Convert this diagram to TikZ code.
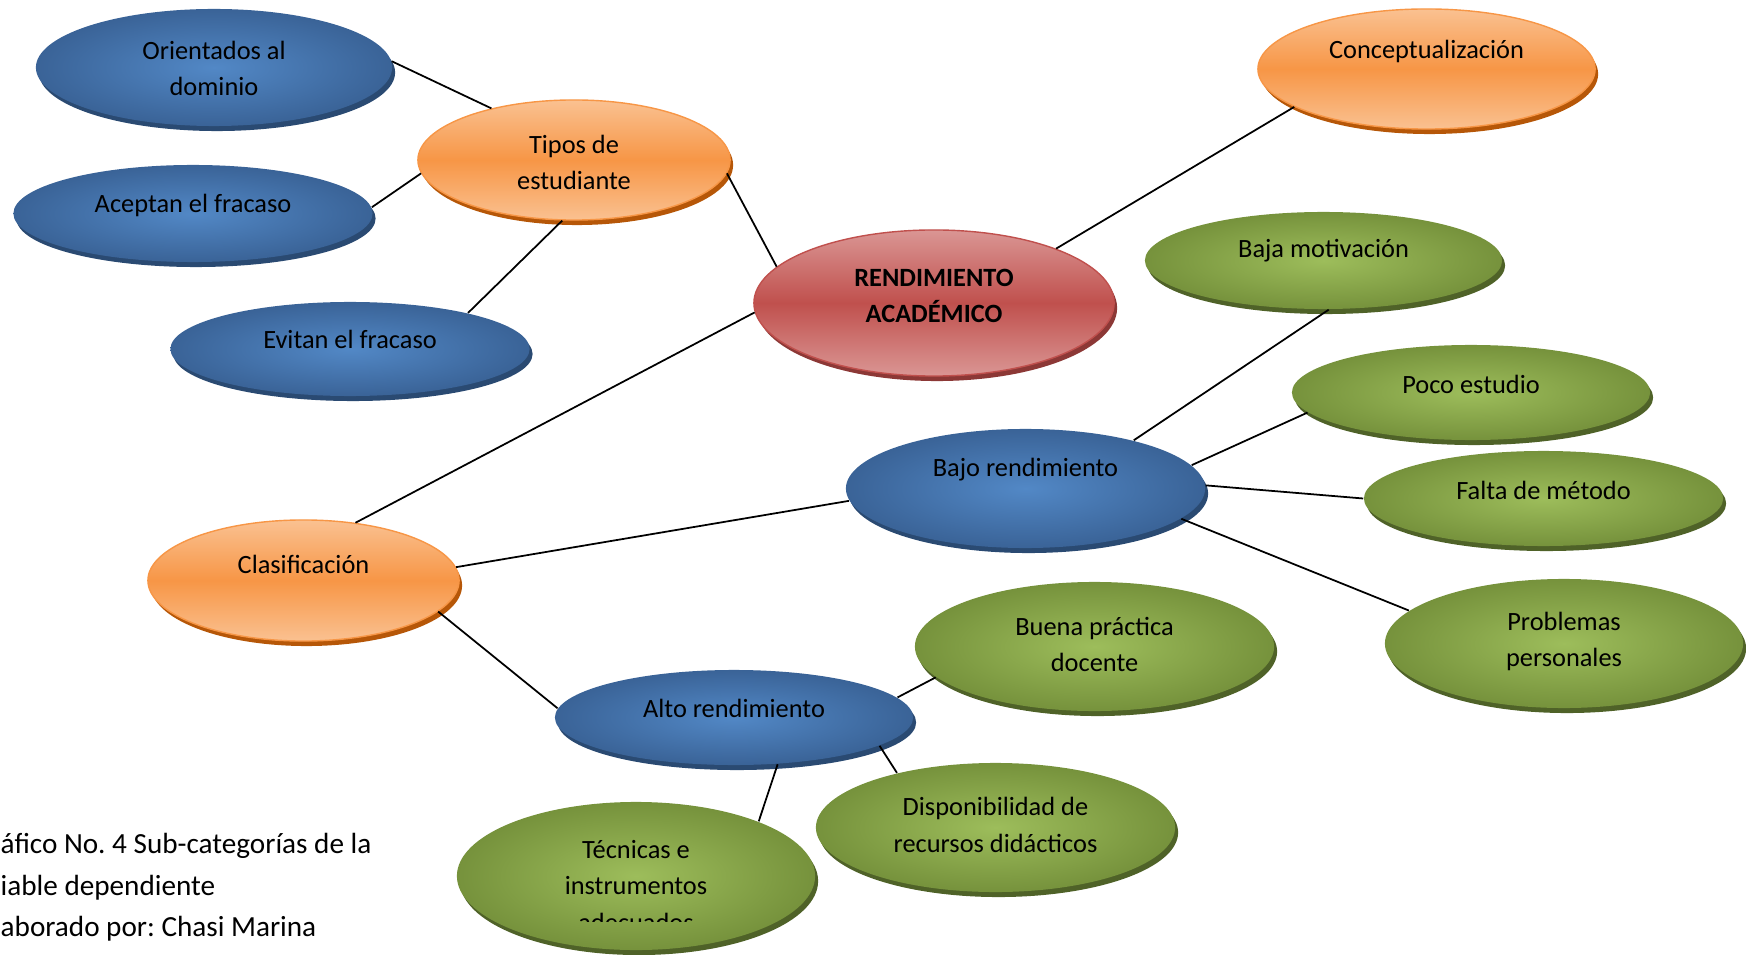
\documentclass[tikz,border=0pt]{standalone}
\usepackage{fontspec}
\setmainfont{Carlito}
\usepackage{xcolor}
\usetikzlibrary{shapes.geometric,shadows}
\frenchspacing

\definecolor{azul}{HTML}{3A6397}
\definecolor{azulclaro}{HTML}{5288C6}
\definecolor{azulborde}{HTML}{2A4A72}
\definecolor{verde}{HTML}{76923C}
\definecolor{verdeclaro}{HTML}{9DBD5B}
\definecolor{verdeborde}{HTML}{4F6228}
\definecolor{naranja}{HTML}{F79646}
\definecolor{naranjaclaro}{HTML}{FAC191}
\definecolor{naranjaborde}{HTML}{B65708}
\definecolor{rojo}{HTML}{C0504D}
\definecolor{rojoclaro}{HTML}{DA9694}
\definecolor{rojoborde}{HTML}{8C3836}

\tikzset{
  burbuja/.style={ellipse, inner sep=0pt},
  azul/.style={burbuja, inner color=azulclaro, outer color=azul,
    general shadow={fill=azulborde, shadow xshift=0.03cm, shadow yshift=-0.05cm}},
  verde/.style={burbuja, inner color=verdeclaro, outer color=verde,
    general shadow={fill=verdeborde, shadow xshift=0.03cm, shadow yshift=-0.05cm}},
  naranja/.style={burbuja, draw=naranja, line width=0.4pt,
    top color=naranjaclaro, bottom color=naranjaclaro, middle color=naranja,
    general shadow={fill=naranjaborde, shadow xshift=0.03cm, shadow yshift=-0.05cm}},
  rojo/.style={burbuja, draw=rojo, line width=0.4pt,
    top color=rojoclaro, bottom color=rojoclaro, middle color=rojo,
    general shadow={fill=rojoborde, shadow xshift=0.03cm, shadow yshift=-0.05cm}},
  texto/.style={align=center, inner sep=0pt, font=\fontsize{7.5pt}{10.4pt}\selectfont},
  pie/.style={align=left, inner sep=0pt, font=\fontsize{8.3pt}{11.75pt}\selectfont},
  linea/.style={line width=0.5pt}
}

\begin{document}
\begin{tikzpicture}[x=0.01cm, y=-0.01cm]
\useasboundingbox (0,0) rectangle (1746,955);
% elipses
\node [azul, minimum width=3.56cm, minimum height=1.17cm] (orientados) at (214,67.5) {};
\node [naranja, minimum width=3.12cm, minimum height=1.20cm] (tipos) at (574,160) {};
\node [azul, minimum width=3.59cm, minimum height=0.97cm] (aceptan) at (193,213.5) {};
\node [azul, minimum width=3.59cm, minimum height=0.94cm] (evitan) at (350,349) {};
\node [rojo, minimum width=3.60cm, minimum height=1.46cm] (rendimiento) at (934,303) {};
\node [naranja, minimum width=3.37cm, minimum height=1.20cm] (concepto) at (1426.5,69) {};
\node [verde, minimum width=3.57cm, minimum height=0.97cm] (motivacion) at (1323.5,260.5) {};
\node [verde, minimum width=3.58cm, minimum height=0.95cm] (estudio) at (1471,392.5) {};
\node [azul, minimum width=3.59cm, minimum height=1.19cm] (bajo) at (1025.5,488.5) {};
\node [verde, minimum width=3.59cm, minimum height=0.95cm] (metodo) at (1543.5,498.5) {};
\node [naranja, minimum width=3.11cm, minimum height=1.21cm] (clasif) at (303.5,580.5) {};
\node [verde, minimum width=3.58cm, minimum height=1.29cm] (problemas) at (1564,643.5) {};
\node [verde, minimum width=3.59cm, minimum height=1.29cm] (practica) at (1094.5,646.5) {};
\node [azul, minimum width=3.58cm, minimum height=0.95cm] (alto) at (734,717.5) {};
\node [verde, minimum width=3.59cm, minimum height=1.29cm] (recursos) at (995.5,827.5) {};
\node [verde, minimum width=3.58cm, minimum height=1.48cm] (tecnicas) at (636,876) {};
% lineas
\draw [linea] (orientados.2) -- (tipos.148);
\draw [linea] (aceptan.2) -- (tipos.185);
\draw [linea] (evitan.17) -- (tipos.259);
\draw [linea] (tipos.355) -- (rendimiento.167);
\draw [linea] (rendimiento.24) -- (concepto.196);
\draw [linea] (rendimiento.183) -- (clasif.48);
\draw [linea] (clasif.5) -- (bajo.184);
\draw [linea] (clasif.347) -- (alto.177);
\draw [linea] (bajo.24) -- (motivacion.276);
\draw [linea] (bajo.8) -- (estudio.187);
\draw [linea] (bajo.1) -- (metodo.180);
\draw [linea] (bajo.349) -- (problemas.168);
\draw [linea] (alto.7) -- (practica.191);
\draw [linea] (alto.349) -- (recursos.151);
\draw [linea] (alto.313) -- (tecnicas.24);
% textos
\node [texto] (orientadosT) at (214,68.5) {Orientados al\\dominio};
\node [texto] (tiposT) at (574,162.5) {Tipos de\\estudiante};
\node [texto] (aceptanT) at (193,205) {Aceptan el fracaso};
\node [texto] (evitanT) at (350,339.5) {Evitan el fracaso};
\node [texto, font=\fontsize{7.5pt}{10.4pt}\selectfont\bfseries] (rendimientoT) at (934,296) {RENDIMIENTO\\ACADÉMICO};
\node [texto] (conceptoT) at (1426.5,51) {Conceptualización};
\node [texto] (motivacionT) at (1323.5,250.5) {Baja motivación};
\node [texto] (estudioT) at (1471,384) {Poco estudio};
\node [texto] (bajoT) at (1025.5,470) {Bajo rendimiento};
\node [texto] (metodoT) at (1543.5,490) {Falta de método};
\node [texto] (clasifT) at (303.5,564.5) {Clasificación};
\node [texto] (problemasT) at (1564,641.5) {Problemas\\personales};
\node [texto] (practicaT) at (1094.5,644.5) {Buena práctica\\docente};
\node [texto] (altoT) at (734,708) {Alto rendimiento};
\node [texto] (recursosT) at (995.5,825) {Disponibilidad de\\recursos didácticos};
\begin{scope}
\clip (440,790) rectangle (830,921);
\node [texto] (tecnicasT) at (636,886) {Técnicas e\\instrumentos\\adecuados};
\end{scope}
% pie
\node [pie, anchor=west] (pie) at (0,887.5) {áfico No. 4 Sub-categorías de la\\iable dependiente\\aborado por: Chasi Marina};
\end{tikzpicture}
\end{document}
